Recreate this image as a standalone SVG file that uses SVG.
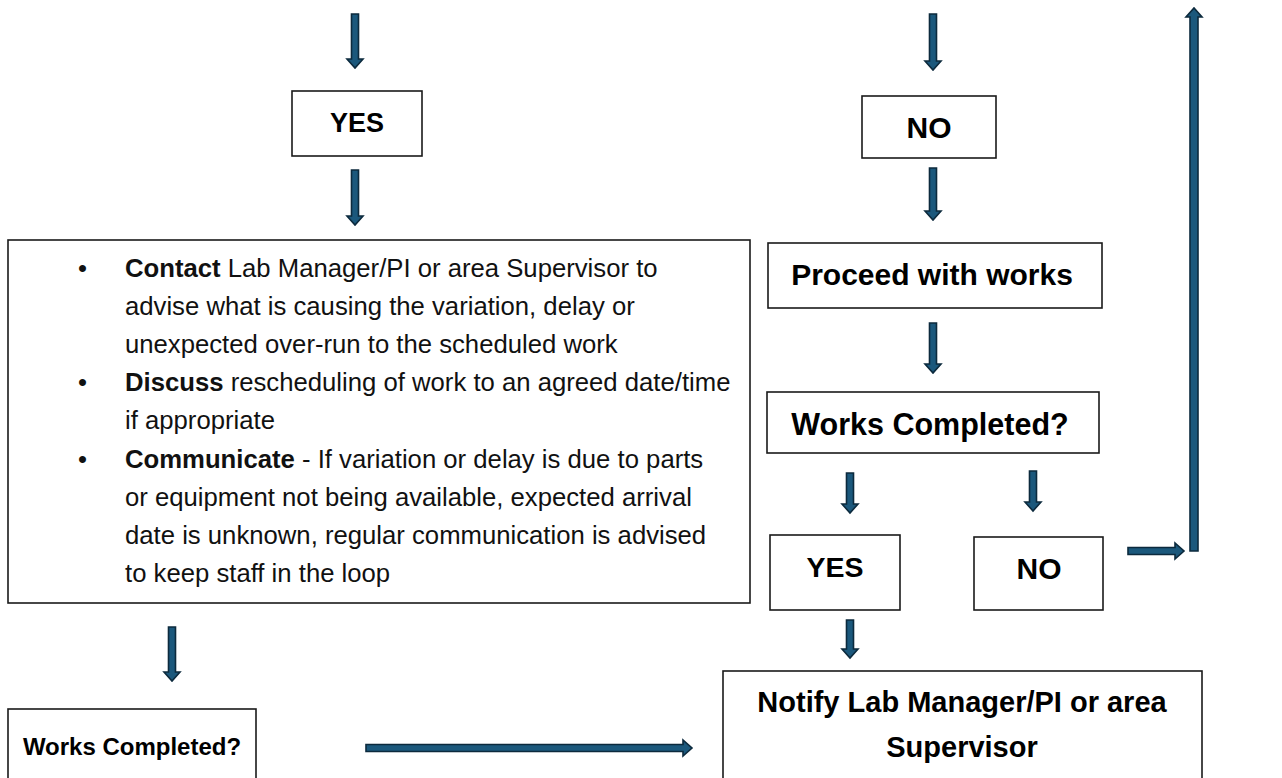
<svg xmlns="http://www.w3.org/2000/svg" width="1282" height="778" viewBox="0 0 1282 778">
<style>
.box{fill:#fff;stroke:#1a1a1a;stroke-width:1.6}
.lbl{font-family:"Liberation Sans",Arial,sans-serif;font-weight:bold;fill:#000;text-anchor:middle}
.body{font-family:"Liberation Sans",Arial,sans-serif;font-size:25.7px;fill:#111}
.b{font-weight:bold}
.arr{fill:#1b587c;stroke:#0c2a3d;stroke-width:1.6;stroke-linejoin:miter}
</style>
<rect width="1282" height="778" fill="#fff"/>
<g id="connectors">
<polygon class="arr" points="351.5,14 358.5,14 358.5,59 363,59 355,68 347,59 351.5,59"/>
<polygon class="arr" points="351.5,170 358.5,170 358.5,216 363,216 355,225 347,216 351.5,216"/>
<polygon class="arr" points="929.5,14 936.5,14 936.5,61 941,61 933,70 925,61 929.5,61"/>
<polygon class="arr" points="929.5,168 936.5,168 936.5,211 941,211 933,220 925,211 929.5,211"/>
<polygon class="arr" points="929.5,323 936.5,323 936.5,364 941,364 933,373 925,364 929.5,364"/>
<polygon class="arr" points="846.5,473 853.5,473 853.5,504 858,504 850,513 842,504 846.5,504"/>
<polygon class="arr" points="1029.5,471 1036.5,471 1036.5,502 1041,502 1033,511 1025,502 1029.5,502"/>
<polygon class="arr" points="846.5,620 853.5,620 853.5,649 858,649 850,658 842,649 846.5,649"/>
<polygon class="arr" points="168.5,627 175.5,627 175.5,672 180,672 172,681 164,672 168.5,672"/>
<polygon class="arr" points="366,744.5 683,744.5 683,740 692,748 683,756 683,751.5 366,751.5"/>
<polygon class="arr" points="1128,547.5 1175,547.5 1175,543 1184,551 1175,559 1175,554.5 1128,554.5"/>
<polygon class="arr" points="1190,551 1198,551 1198,17 1202,17 1194,8 1186,17 1190,17"/>
</g>
<g id="yes-top">
<rect class="box" x="292" y="91" width="130" height="65"/>
<text class="lbl" x="357" y="132" font-size="27">YES</text>
</g>
<g id="no-top">
<rect class="box" x="862" y="96" width="134" height="62"/>
<text class="lbl" x="929" y="138" font-size="30">NO</text>
</g>
<g id="actions">
<rect class="box" x="8" y="240" width="742" height="363"/>
<g class="body">
<text x="78" y="277">•</text>
<text x="125" y="277"><tspan class="b">Contact</tspan> Lab Manager/PI or area Supervisor to</text>
<text x="125" y="315">advise what is causing the variation, delay or</text>
<text x="125" y="353">unexpected over-run to the scheduled work</text>
<text x="78" y="391">•</text>
<text x="125" y="391"><tspan class="b">Discuss</tspan> rescheduling of work to an agreed date/time</text>
<text x="125" y="429">if appropriate</text>
<text x="78" y="468">•</text>
<text x="125" y="468"><tspan class="b">Communicate</tspan> - If variation or delay is due to parts</text>
<text x="125" y="506">or equipment not being available, expected arrival</text>
<text x="125" y="544">date is unknown, regular communication is advised</text>
<text x="125" y="582">to keep staff in the loop</text>
</g>
</g>
<g id="proceed">
<rect class="box" x="768" y="243" width="334" height="65"/>
<text class="lbl" x="932" y="285" font-size="30">Proceed with works</text>
</g>
<g id="works-completed-right">
<rect class="box" x="767" y="392" width="332" height="61"/>
<text class="lbl" x="930" y="435" font-size="30.5">Works Completed?</text>
</g>
<g id="yes-small">
<rect class="box" x="770" y="535" width="130" height="75"/>
<text class="lbl" x="835" y="577" font-size="28.5">YES</text>
</g>
<g id="no-small">
<rect class="box" x="974" y="537" width="129" height="73"/>
<text class="lbl" x="1039" y="579" font-size="30">NO</text>
</g>
<g id="notify">
<rect class="box" x="723" y="671" width="479" height="130"/>
<text class="lbl" x="962" y="712" font-size="29">Notify Lab Manager/PI or area</text>
<text class="lbl" x="962" y="757" font-size="29">Supervisor</text>
</g>
<g id="works-completed-left">
<rect class="box" x="8" y="709" width="248" height="90"/>
<text class="lbl" x="132" y="755" font-size="24">Works Completed?</text>
</g>
</svg>
